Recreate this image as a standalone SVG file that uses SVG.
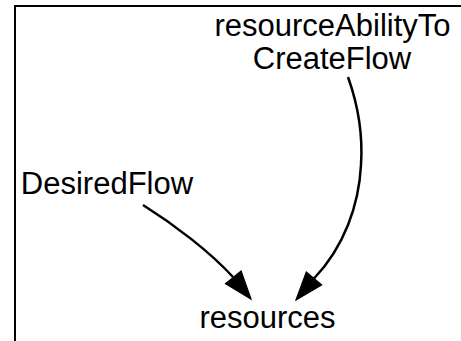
<svg xmlns="http://www.w3.org/2000/svg" width="461" height="341" viewBox="0 0 461 341">
<style>
  .lbl { font-family: "Liberation Sans", Arial, sans-serif; font-size: 31px; fill: #000; text-anchor: middle; }
  .edge { fill: none; stroke: #000; stroke-width: 2.5; }
  .head { fill: #000; stroke: #000; stroke-width: 1.2; }
</style>
<rect x="15" y="6" width="460" height="350" fill="#fff" stroke="#000" stroke-width="2"/>
<g id="connectors">
  <g id="edge-DesiredFlow-resources">
    <path class="edge" d="M143,205 C175,225 210,252 233,277"/>
    <polygon class="head" points="251,299 241.1,271 225.5,283.6"/>
  </g>
  <g id="edge-resourceAbilityToCreateFlow-resources">
    <path class="edge" d="M348,77 C358,105 363,135 361,165 C359,205 344,247 314,278.5"/>
    <polygon class="head" points="296,300 321.7,285 306.3,272"/>
  </g>
</g>
<g id="node-resourceAbilityToCreateFlow">
  <text class="lbl" x="332.5" y="36">resourceAbilityTo</text>
  <text class="lbl" x="332" y="69">CreateFlow</text>
</g>
<g id="node-DesiredFlow">
  <text class="lbl" x="107" y="194">DesiredFlow</text>
</g>
<g id="node-resources">
  <text class="lbl" x="267.5" y="328">resources</text>
</g>
</svg>
